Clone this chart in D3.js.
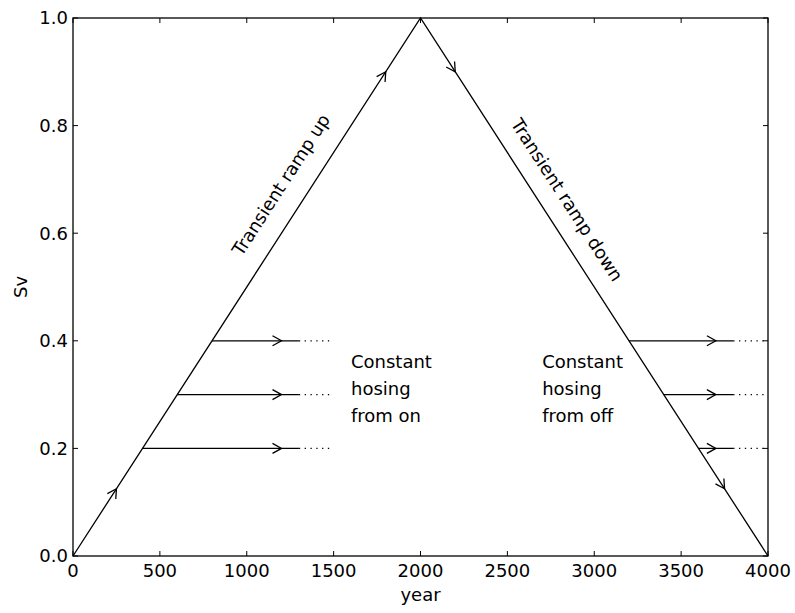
<!DOCTYPE html>
<html>
<head>
<meta charset="utf-8">
<script src="https://cdn.jsdelivr.net/npm/d3@7"></script>
<style>
  body { margin: 0; background: #fff; }
  svg { display: block; font-family: "DejaVu Sans", sans-serif; }
  .tick-label { font-size: 18px; fill: #000; }
  .note { font-size: 18px; fill: #000; }
</style>
</head>
<body>
<div id="chart"></div>
<script>
// main triangle path: ramp up then ramp down
const rampYears = [0, 2000, 4000];
const rampSv = [0, 1, 0];
const rampArrowYears = [250, 1800, 2200, 3750];

// constant hosing branches off the ramp up
const onStartYears = [400, 600, 800];
const onLevels = [0.2, 0.3, 0.4];
const onEndYear = 1300;
const onDotEndYear = 1500;
const onArrowYear = 1200;

// constant hosing branches off the ramp down
const offStartYears = [3600, 3400, 3200];
const offLevels = [0.2, 0.3, 0.4];
const offEndYear = 3800;
const offDotEndYear = 4000;
const offArrowYear = 3700;

const xTicks = [0, 500, 1000, 1500, 2000, 2500, 3000, 3500, 4000];
const yTicks = [0.0, 0.2, 0.4, 0.6, 0.8, 1.0];

const width = 795;
const height = 613;
const marginLeft = 73;
const marginRight = 27;
const marginTop = 18;
const marginBottom = 57;

const svg = d3.select('#chart').append('svg')
  .attr('width', width)
  .attr('height', height);

const x = d3.scaleLinear().domain([0, 4000]).range([marginLeft, width - marginRight]);
const y = d3.scaleLinear().domain([0, 1]).range([height - marginBottom, marginTop]);

const line = d3.line().x(d => x(d[0])).y(d => y(d[1]));

// triangle
const ramp = rampYears.map((yr, i) => [yr, rampSv[i]]);
svg.append('path')
  .attr('d', line(ramp))
  .attr('fill', 'none')
  .attr('stroke', '#000')
  .attr('stroke-width', 1.3);

// sv value on the ramp at a given year
function rampAt(yr) {
  return yr <= 2000 ? yr / 2000 : (4000 - yr) / 2000;
}

function arrow(px, py, angle) {
  svg.append('path')
    .attr('d', 'M-9,-5L0,0L-9,5')
    .attr('transform', `translate(${px},${py}) rotate(${angle})`)
    .attr('fill', 'none')
    .attr('stroke', '#000')
    .attr('stroke-width', 1.3);
}

rampArrowYears.forEach(yr => {
  const dir = yr <= 2000 ? 1 : -1;
  const dx = x(yr + 10) - x(yr);
  const dy = y(rampAt(yr) + dir * 10 / 2000) - y(rampAt(yr));
  const angle = Math.atan2(dy, dx) * 180 / Math.PI;
  arrow(x(yr), y(rampAt(yr)), angle);
});

function hosing(starts, levels, endYr, dotEnd, arrowYr) {
  starts.forEach((s, i) => {
    const lv = levels[i];
    svg.append('path')
      .attr('d', line([[s, lv], [endYr, lv]]))
      .attr('stroke', '#000')
      .attr('stroke-width', 1.3);
    svg.append('path')
      .attr('d', line([[endYr, lv], [dotEnd, lv]]))
      .attr('stroke', '#000')
      .attr('stroke-width', 1.3)
      .attr('stroke-dasharray', '1.3,4.5');
    arrow(x(arrowYr), y(lv), 0);
  });
}
hosing(onStartYears, onLevels, onEndYear, onDotEndYear, onArrowYear);
hosing(offStartYears, offLevels, offEndYear, offDotEndYear, offArrowYear);

// frame and inward ticks
const x0 = x(0), x1 = x(4000), y0 = y(0), y1 = y(1);
svg.append('rect')
  .attr('x', x0).attr('y', y1)
  .attr('width', x1 - x0).attr('height', y0 - y1)
  .attr('fill', 'none')
  .attr('stroke', '#000')
  .attr('stroke-width', 1.3);

const tickLen = 5;
xTicks.forEach(t => {
  svg.append('line').attr('x1', x(t)).attr('x2', x(t)).attr('y1', y0).attr('y2', y0 - tickLen).attr('stroke', '#000');
  svg.append('line').attr('x1', x(t)).attr('x2', x(t)).attr('y1', y1).attr('y2', y1 + tickLen).attr('stroke', '#000');
  svg.append('text').attr('class', 'tick-label')
    .attr('x', x(t)).attr('y', y0 + 21)
    .attr('text-anchor', 'middle')
    .text(t);
});
yTicks.forEach(t => {
  svg.append('line').attr('x1', x0).attr('x2', x0 + tickLen).attr('y1', y(t)).attr('y2', y(t)).attr('stroke', '#000');
  svg.append('line').attr('x1', x1).attr('x2', x1 - tickLen).attr('y1', y(t)).attr('y2', y(t)).attr('stroke', '#000');
  svg.append('text').attr('class', 'tick-label')
    .attr('x', x0 - 5).attr('y', y(t))
    .attr('dy', '0.35em')
    .attr('text-anchor', 'end')
    .text(d3.format('.1f')(t));
});

// axis titles
svg.append('text').attr('class', 'tick-label')
  .attr('x', (x0 + x1) / 2).attr('y', 601)
  .attr('text-anchor', 'middle')
  .text('year');
svg.append('text').attr('class', 'tick-label')
  .attr('transform', `translate(27,${(y0 + y1) / 2}) rotate(-90)`)
  .attr('text-anchor', 'middle')
  .text('Sv');

// ramp labels, rotated along the lines
const slope = Math.atan2(y(0) - y(1), x(2000) - x(0)) * 180 / Math.PI;
svg.append('text').attr('class', 'note')
  .attr('transform', `translate(${x(1197)},${y(0.69)}) rotate(${-slope})`)
  .attr('text-anchor', 'middle')
  .attr('dy', '0.35em')
  .text('Transient ramp up');
svg.append('text').attr('class', 'note')
  .attr('transform', `translate(${x(2843)},${y(0.662)}) rotate(${slope})`)
  .attr('text-anchor', 'middle')
  .attr('dy', '0.35em')
  .text('Transient ramp down');

// constant hosing labels
function multiline(lines, xv, yv) {
  const t = svg.append('text').attr('class', 'note')
    .attr('x', x(xv)).attr('y', y(yv));
  lines.forEach((s, i) => {
    t.append('tspan').attr('x', x(xv)).attr('dy', i === 0 ? 0 : 27).text(s);
  });
}
multiline(['Constant', 'hosing', 'from on'], 1600, 0.350);
multiline(['Constant', 'hosing', 'from off'], 2700, 0.350);
</script>
</body>
</html>
